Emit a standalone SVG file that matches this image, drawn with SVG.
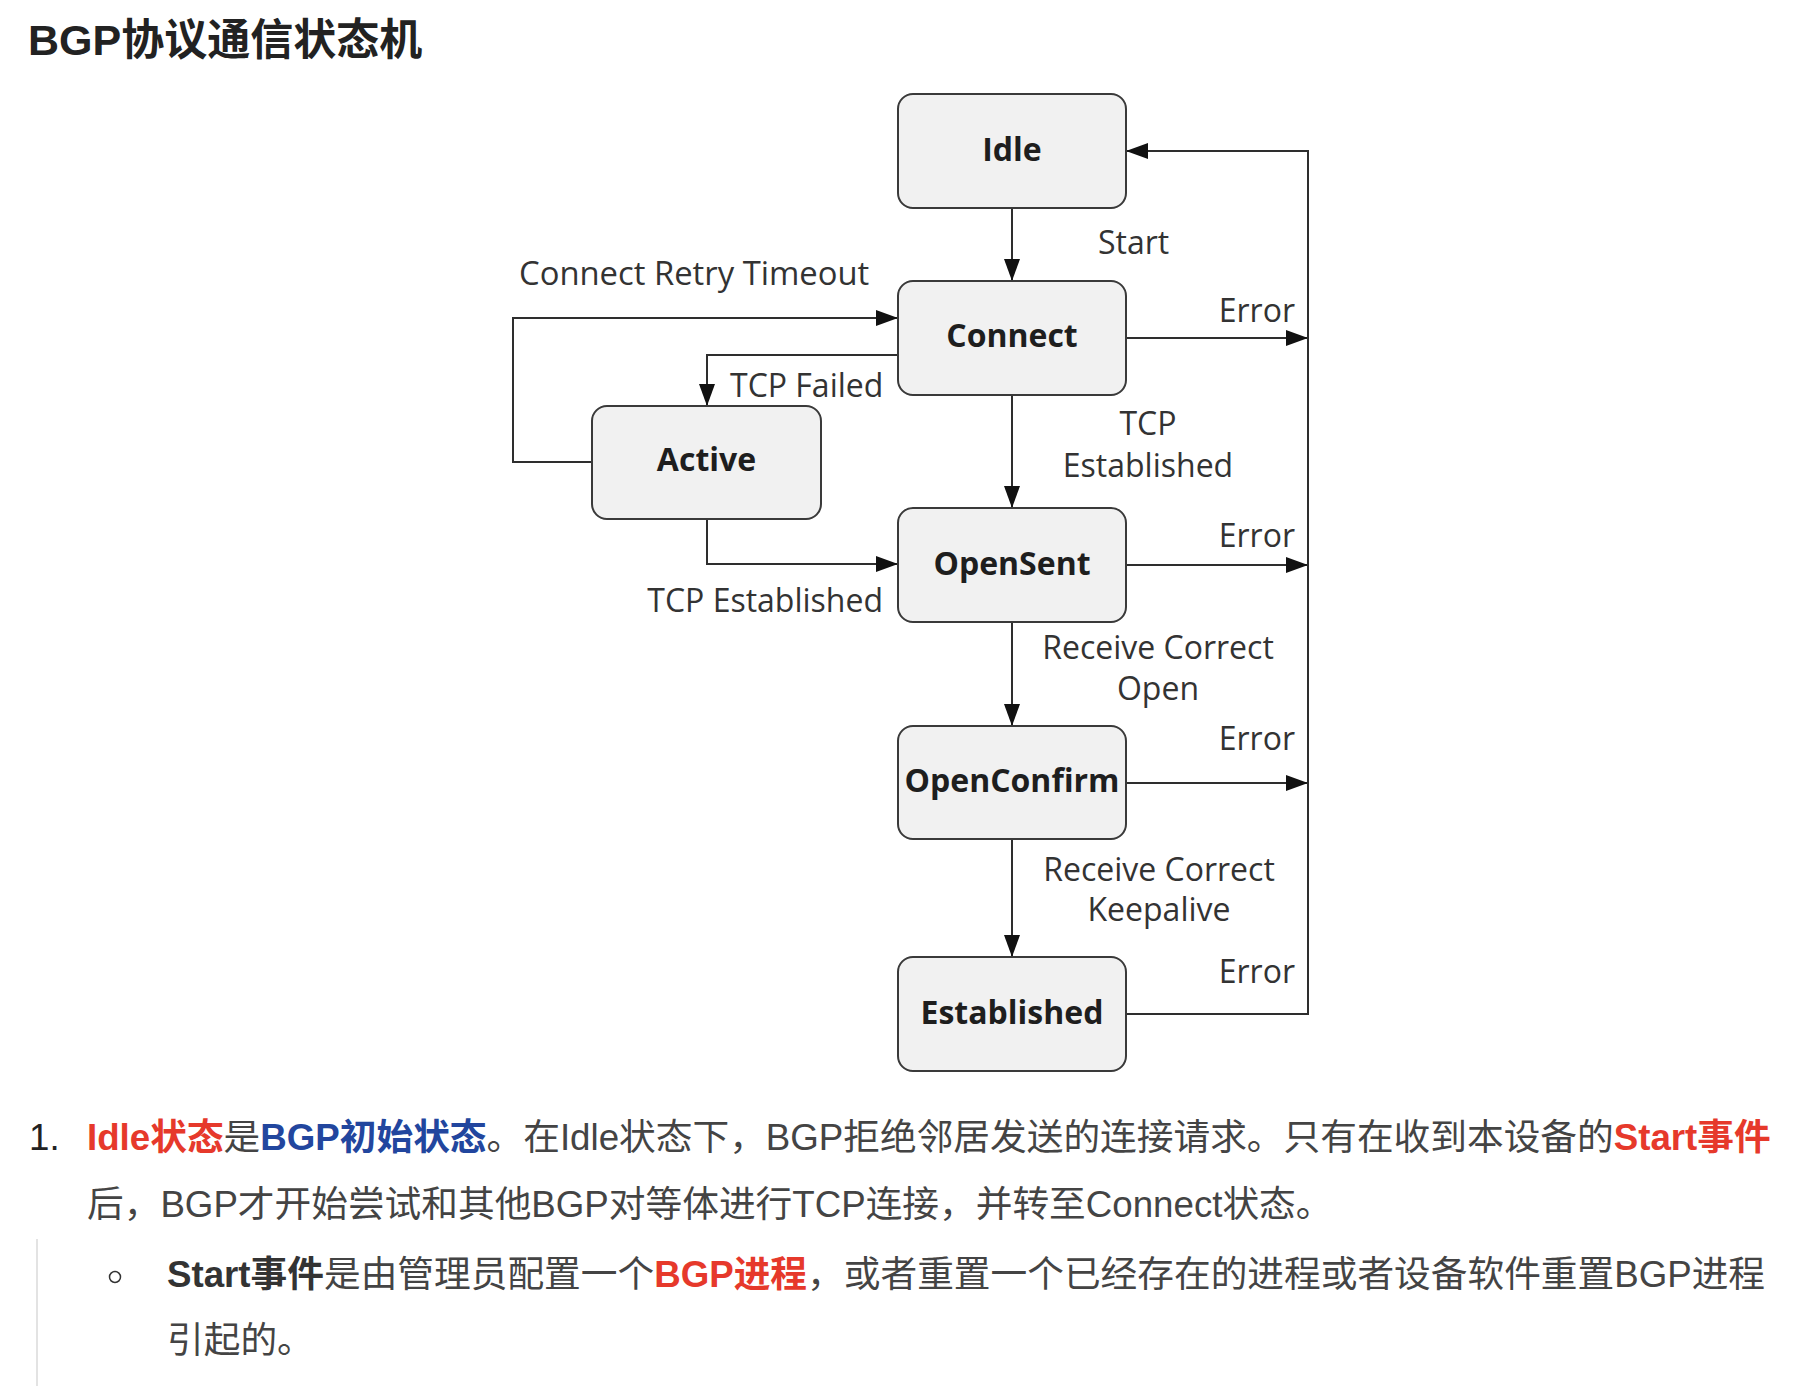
<svg xmlns="http://www.w3.org/2000/svg" width="1806" height="1386" viewBox="0 0 1806 1386">
<style>
.node rect{fill:#f1f1f1;stroke:#3a3a3a;stroke-width:2}
.nl{font-family:"Open Sans","DejaVu Sans",sans-serif;font-size:32px;font-weight:bold;fill:#1e1e1e;text-anchor:middle}
.el{font-family:"Open Sans","DejaVu Sans",sans-serif;font-size:32px;fill:#333}
.mid{text-anchor:middle}
.end{text-anchor:end}
.conn path{fill:none;stroke:#2e2e2e;stroke-width:2}
.body{font-family:"Liberation Sans","Noto Sans CJK SC",sans-serif;font-size:36.7px;fill:#444}
.b{font-weight:bold}
.red{fill:#e6392b}
.blue{fill:#22469e}
.dark{fill:#333}
</style>
<defs>
<marker id="arr" markerUnits="userSpaceOnUse" markerWidth="22" markerHeight="16" refX="22" refY="8" orient="auto">
<path d="M0,0 L22,8 L0,16 z" fill="#111"/>
</marker>
</defs>
<rect width="1806" height="1386" fill="#ffffff"/>
<text x="28" y="55" font-family="'Liberation Sans','Noto Sans CJK SC',sans-serif" font-size="43" font-weight="bold" fill="#222">BGP协议通信状态机</text>

<g class="conn">
<path d="M1012,208 V281" marker-end="url(#arr)"/>
<path d="M1126,338 H1308" marker-end="url(#arr)"/>
<path d="M1126,565 H1308" marker-end="url(#arr)"/>
<path d="M1126,783 H1308" marker-end="url(#arr)"/>
<path d="M1126,1014 H1308 V151 H1126" marker-end="url(#arr)"/>
<path d="M1012,395 V508" marker-end="url(#arr)"/>
<path d="M1012,622 V726" marker-end="url(#arr)"/>
<path d="M1012,839 V957" marker-end="url(#arr)"/>
<path d="M898,355 H707 V406" marker-end="url(#arr)"/>
<path d="M592,462 H513 V318 H898" marker-end="url(#arr)"/>
<path d="M707,519 V564 H898" marker-end="url(#arr)"/>
</g>

<g id="idle" class="node"><rect x="898" y="94" width="228" height="114" rx="15"/><text class="nl" x="1012" y="161">Idle</text></g>
<g id="connect" class="node"><rect x="898" y="281" width="228" height="114" rx="15"/><text class="nl" x="1012" y="347">Connect</text></g>
<g id="active" class="node"><rect x="592" y="406" width="229" height="113" rx="15"/><text class="nl" x="706.5" y="471">Active</text></g>
<g id="opensent" class="node"><rect x="898" y="508" width="228" height="114" rx="15"/><text class="nl" x="1012" y="575">OpenSent</text></g>
<g id="openconfirm" class="node"><rect x="898" y="726" width="228" height="113" rx="15"/><text class="nl" x="1012" y="792">OpenConfirm</text></g>
<g id="established" class="node"><rect x="898" y="957" width="228" height="114" rx="15"/><text class="nl" x="1012" y="1024">Established</text></g>

<g id="labels">
<text class="el" x="1098" y="254">Start</text>
<text class="el" x="519" y="285" style="font-size:32.8px">Connect Retry Timeout</text>
<text class="el end" x="1295" y="322">Error</text>
<text class="el end" x="1295" y="547">Error</text>
<text class="el end" x="1295" y="750">Error</text>
<text class="el end" x="1295" y="983">Error</text>
<text class="el" x="730" y="397">TCP Failed</text>
<text class="el mid" x="1148" y="435">TCP</text>
<text class="el mid" x="1148" y="477">Established</text>
<text class="el end" x="883" y="612">TCP Established</text>
<text class="el mid" x="1158" y="659">Receive Correct</text>
<text class="el mid" x="1158" y="700">Open</text>
<text class="el mid" x="1159" y="881">Receive Correct</text>
<text class="el mid" x="1159" y="921">Keepalive</text>
</g>

<g id="notes">
<text class="body" x="29" y="1150" style="fill:#222">1.</text>
<text class="body" x="87" y="1150"><tspan class="b red">Idle状态</tspan><tspan>是</tspan><tspan class="b blue">BGP初始状态</tspan><tspan>。在Idle状态下，BGP拒绝邻居发送的连接请求。只有在收到本设备的</tspan><tspan class="b red">Start事件</tspan></text>
<text class="body" x="87" y="1217">后，BGP才开始尝试和其他BGP对等体进行TCP连接，并转至Connect状态。</text>
<line x1="37" y1="1239" x2="37" y2="1386" stroke="#e3e3e3" stroke-width="2"/>
<circle cx="115" cy="1277" r="5.5" fill="none" stroke="#333" stroke-width="1.5"/>
<text class="body" x="167" y="1287"><tspan class="b dark">Start事件</tspan><tspan>是由管理员配置一个</tspan><tspan class="b red">BGP进程</tspan><tspan>，或者重置一个已经存在的进程或者设备软件重置BGP进程</tspan></text>
<text class="body" x="167" y="1353">引起的。</text>
</g>
</svg>
